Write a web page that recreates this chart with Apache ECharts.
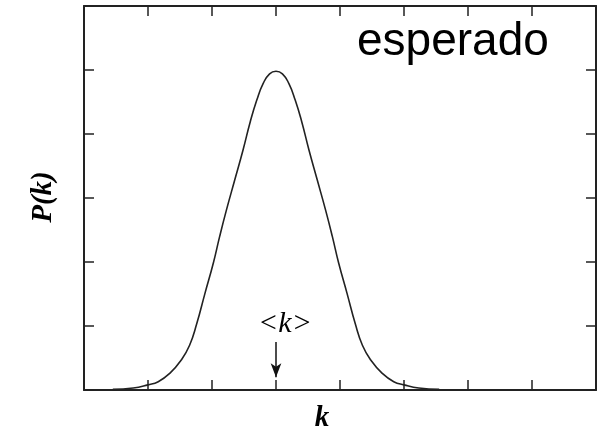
<!DOCTYPE html>
<html><head><meta charset="utf-8">
<script src="https://cdn.jsdelivr.net/npm/echarts@6/dist/echarts.min.js"></script>
<style>html,body{margin:0;padding:0;background:#fff}#c{width:597px;height:432px}</style>
</head><body><div id="c"></div>
<script>
var kValues = [0.45, 0.77, 1.0, 1.16, 1.34, 1.52, 1.65, 1.76, 1.89, 2.02, 2.12, 2.225, 2.355, 2.485, 2.6, 2.7, 2.8, 2.9, 3.0,
               3.1, 3.2, 3.3, 3.4, 3.515, 3.645, 3.775, 3.88, 3.98, 4.11, 4.24, 4.35, 4.48, 4.66, 4.84, 5.0, 5.23, 5.55];
var pValues = [0.01, 0.03, 0.08, 0.13, 0.26, 0.47, 0.70, 1.03, 1.51, 1.98, 2.40, 2.81, 3.28, 3.75, 4.2, 4.53, 4.79, 4.94, 4.98,
               4.94, 4.79, 4.53, 4.2, 3.75, 3.28, 2.81, 2.40, 1.98, 1.51, 1.03, 0.70, 0.47, 0.26, 0.13, 0.08, 0.03, 0.01];
var xTicks = [0, 1, 2, 3, 4, 5, 6, 7, 8];
var yTicks = [0, 1, 2, 3, 4, 5, 6];
var meanK = 3;
var arrowFrom = 0.75, arrowTo = 0.2;
var titleText = 'esperado';
var yName = 'P(k)', xName = 'k', meanLabel = '<k>';

var chart = echarts.init(document.getElementById('c'));
var axCol = '#222';
function xAx(pos){return {type:'value', position:pos, min:xTicks[0], max:xTicks[xTicks.length-1], interval:1,
  axisLine:{show:true,onZero:false,lineStyle:{color:axCol,width:2}},
  axisTick:{show:true,inside:true,length:10,lineStyle:{color:axCol,width:1.5}},
  axisLabel:{show:false}, splitLine:{show:false}};}
function yAx(pos){return {type:'value', position:pos, min:yTicks[0], max:yTicks[yTicks.length-1], interval:1,
  axisLine:{show:true,onZero:false,lineStyle:{color:axCol,width:2}},
  axisTick:{show:true,inside:true,length:10,lineStyle:{color:axCol,width:1.5}},
  axisLabel:{show:false}, splitLine:{show:false}};}
var data = kValues.map(function(k,i){return [k,pValues[i]];});
chart.setOption({
  animation:false,
  grid:{left:84, top:6, right:1, bottom:42},
  xAxis:[xAx('bottom'), xAx('top')],
  yAxis:[yAx('left'), yAx('right')],
  series:[{type:'line', data:data, smooth:0.5, showSymbol:false, symbol:'none',
    lineStyle:{color:'#222', width:1.6},
    markLine:{silent:true, symbol:['none','arrow'], symbolSize:[8,14],
      label:{show:false},
      lineStyle:{color:'#111', width:1.5, type:'solid'},
      data:[[{coord:[meanK, arrowFrom]},{coord:[meanK, arrowTo]}]]}
  }]
});
var pTop = chart.convertToPixel({xAxisIndex:0, yAxisIndex:0}, [meanK, arrowFrom]);
chart.setOption({graphic:[
  {type:'text', left:357, top:19, style:{text:titleText, font:'46px "Liberation Sans", Arial, sans-serif', fill:'#000'}},
  {type:'text', x:44, y:197, rotation:Math.PI/2, style:{text:yName, font:'italic bold 29px "Liberation Serif", serif', fill:'#000', align:'center', verticalAlign:'middle'}},
  {type:'text', x:322, y:419, style:{text:xName, font:'italic bold 29px "Liberation Serif", serif', fill:'#000', align:'center', verticalAlign:'middle'}},
  {type:'text', x:pTop[0]+9, y:pTop[1]-18, style:{text:meanLabel, font:'italic 30px "Liberation Serif", serif', fill:'#000', align:'center', verticalAlign:'middle'}}
]});
</script></body></html>
